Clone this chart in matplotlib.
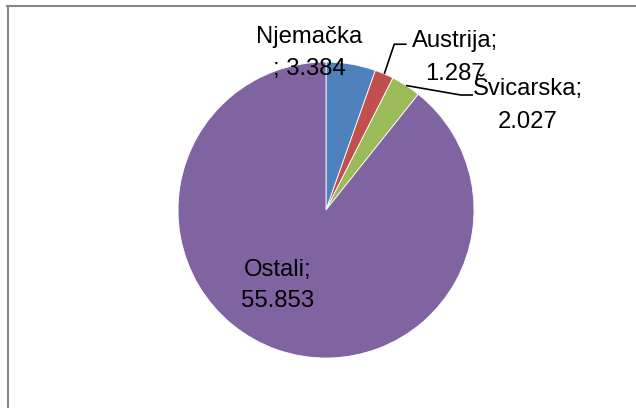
import numpy as np
import matplotlib.pyplot as plt
from matplotlib.lines import Line2D

labels = ["Njemačka", "Austrija;", "Švicarska;", "Ostali;"]
value_text = ["; 3.384", "1.287", "2.027", "55.853"]
values = [3.384, 1.287, 2.027, 55.853]
colors = ["#4F81BD", "#C0504D", "#9BBB59", "#8064A2"]

W, H = 636, 408
cx, cy, r = 326, 210, 148  # pie centre and radius in pixels

fig = plt.figure(figsize=(W / 100, H / 100), dpi=100)
ax = fig.add_axes([0, 0, 1, 1])

wedges, _ = ax.pie(values, colors=colors, startangle=90, counterclock=False,
                   radius=1, wedgeprops=dict(linewidth=0.6, edgecolor="white"))

# pie() resets the limits, so set them afterwards
ax.set_xlim(-cx / r, (W - cx) / r)
ax.set_ylim(-(H - cy) / r, cy / r)
ax.set_aspect("equal")
ax.axis("off")

font = dict(family="Liberation Sans", fontsize=17.2, color="black")

# label placement (centre x, baseline of line 1, baseline of line 2), data units
pos = [(-0.115, 1.128, 0.912),
       (0.872, 1.101, 0.878),
       (1.365, 0.777, 0.554),
       (-0.324, -0.446, -0.655)]
for lab, val, (x, y1, y2) in zip(labels, value_text, pos):
    ax.text(x, y1, lab, ha="center", va="baseline", **font)
    ax.text(x, y2, val, ha="center", va="baseline", **font)

# leader lines for the small slices
elbows = {1: [(0.461, 1.120), (0.545, 1.120)],
          2: [(0.910, 0.777), (0.993, 0.777)]}
for i, pts in elbows.items():
    w = wedges[i]
    mid = np.deg2rad((w.theta1 + w.theta2) / 2)
    ax_pts = [(np.cos(mid), np.sin(mid))] + pts
    xs, ys = zip(*ax_pts)
    ax.plot(xs, ys, color="black", linewidth=1.2, solid_capstyle="butt")

# chart frame (cut off at right and bottom)
fig.add_artist(Line2D([8 / W, 8 / W], [0, 1 - 6 / H], transform=fig.transFigure,
                      color="#868686", linewidth=1.5))
fig.add_artist(Line2D([7.3 / W, 1], [1 - 6 / H, 1 - 6 / H], transform=fig.transFigure,
                      color="#868686", linewidth=1.5))

fig.savefig("out.png", dpi=100)
